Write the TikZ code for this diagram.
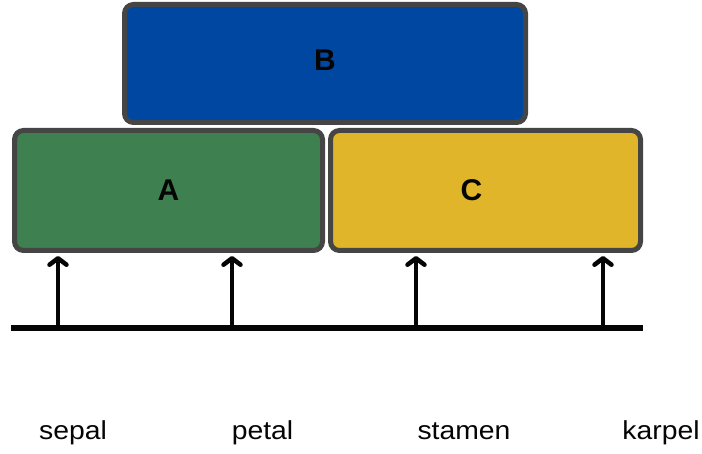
\documentclass[tikz,border=0pt]{standalone}
\usepackage{fontspec}
\setmainfont{Liberation Sans}
\newfontfamily\widefont[FakeStretch=1.09]{Liberation Sans}
\usetikzlibrary{arrows.meta,positioning}
\definecolor{ink}{HTML}{050505}
\definecolor{frame}{HTML}{454545}
\definecolor{classA}{HTML}{3F8050}
\definecolor{classB}{HTML}{0047A2}
\definecolor{classC}{HTML}{E1B52A}
\tikzset{
    gene box/.style={draw=frame, line width=5pt, rounded corners=9pt,
                     inner sep=0pt, text=ink,
                     font=\fontsize{30}{34}\selectfont\bfseries},
    gene letter/.style={font=\fontsize{30}{34}\selectfont\bfseries, text=ink},
    organ label/.style={font=\widefont\fontsize{26}{30}\selectfont, text=ink,
                        anchor=base, inner sep=0pt},
    up arrow/.style={ink, line width=4.5pt,
                     -{Straight Barb[length=6.5pt,width=17pt,round]},
                     shorten >=3pt},
    axis line/.style={ink, line width=6pt},
}

\begin{document}
\begin{tikzpicture}[x=1pt,y=-1pt]
\useasboundingbox (0,0) rectangle (702,454);

% Gene classes: B on top, A and C side by side below it.
\node[gene box, fill=classB, minimum width=401pt, minimum height=118pt,
      label={[gene letter, yshift=3pt]center:B}]
    (B) at (325,63.5) {};
\node[gene box, fill=classA, minimum width=308pt, minimum height=120pt]
    (A) at (168.5,190.5) {A};
\node[gene box, fill=classC, minimum width=310pt, minimum height=120pt,
      label={[gene letter, xshift=-14pt]center:C}]
    (C) at (485.5,190.5) {};

% The whorl axis and one arrow per whorl.
\coordinate (axisL) at (11,328);
\coordinate (axisR) at (643,328);
\draw[axis line] (axisL) -- (axisR);
\foreach \x/\whorl in {58/A,232/A,416/C,603/C} {
    \coordinate (w\x) at (\x,328);
    \draw[up arrow] (w\x) -- (w\x |- \whorl.south);
}

% Whorl names.
\node[organ label] (sepal) at (73,439) {sepal};
\node[organ label] (petal) at (262.5,439) {petal};
\node[organ label] (stamen) at (464,439) {stamen};
\node[organ label] (karpel) at (661,439) {karpel};

\end{tikzpicture}
\end{document}
